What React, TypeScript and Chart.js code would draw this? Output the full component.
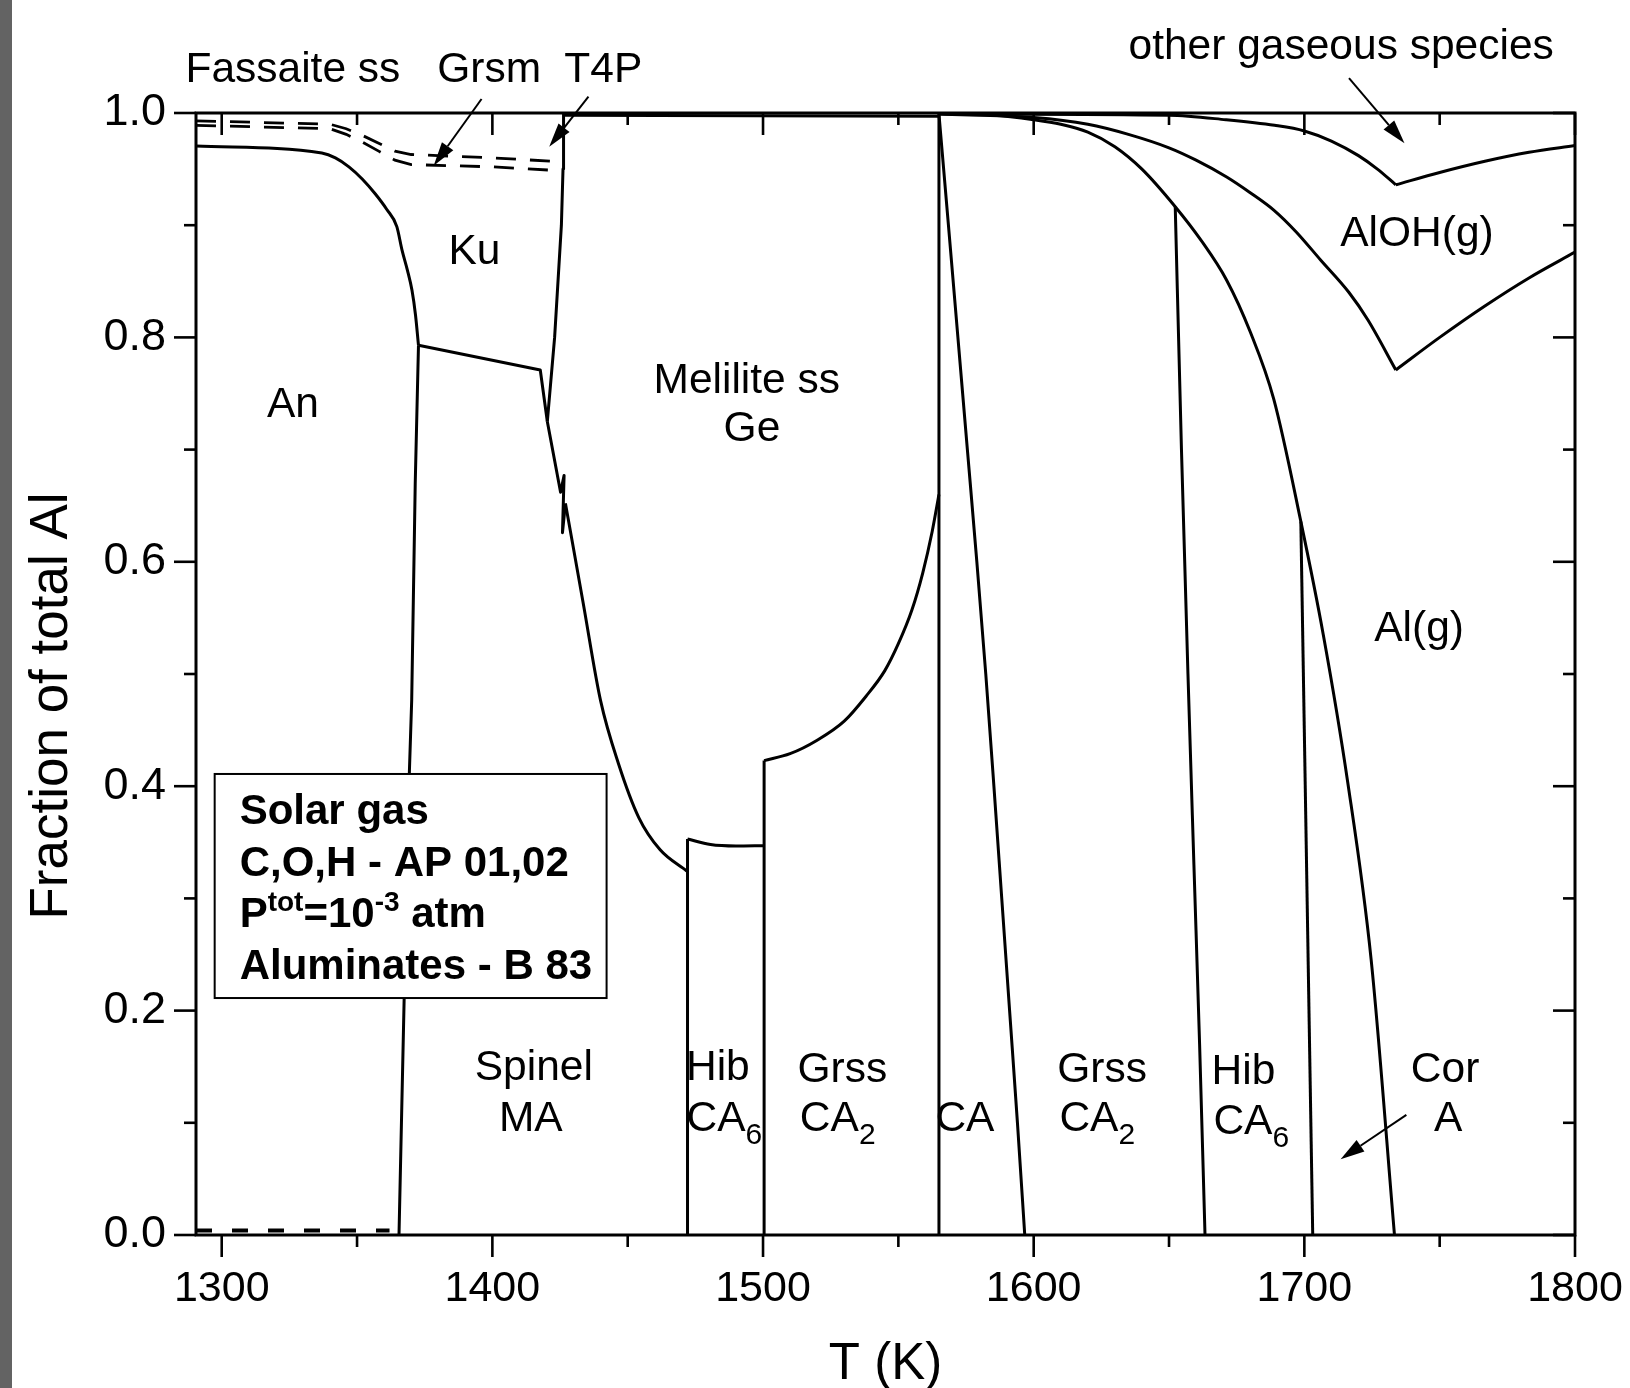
import { useEffect, useRef } from 'react';
import { Chart, registerables } from 'chart.js';

Chart.register(...registerables);

type Pt = [number, number];

// Axis ranges and ticks
const T_MIN = 1290.5;
const T_MAX = 1800;
const T_TICKS = [1300, 1400, 1500, 1600, 1700, 1800];
const T_MINOR = [1350, 1450, 1550, 1650, 1750];
const FRACTION_TICKS = [0, 0.2, 0.4, 0.6, 0.8, 1.0];
const FRACTION_MINOR = [0.1, 0.3, 0.5, 0.7, 0.9];
const X_TITLE = 'T (K)';
const Y_TITLE = 'Fraction of total Al';

// Phase boundaries: [T (K), cumulative fraction of total Al]
const AN_KU: Pt[] = [[1290.5, 0.9706], [1337, 0.9643], [1342, 0.96], [1347, 0.952], [1352, 0.941], [1356.7, 0.928], [1361, 0.914], [1364.7, 0.8987], [1366.6, 0.878], [1368.6, 0.86], [1370.3, 0.842], [1371.6, 0.82], [1372.7, 0.793]];
const AN_SPINEL: Pt[] = [[1365.5, 0], [1367.4, 0.21], [1369.3, 0.41], [1370.2, 0.477], [1370.9, 0.581], [1371.5, 0.67], [1372.7, 0.793]];
const SPINEL_KU: Pt[] = [[1372.7, 0.793], [1417.7, 0.771], [1420.3, 0.725]];
const KU_MELILITE: Pt[] = [[1420.3, 0.725], [1423, 0.8], [1425.5, 0.9], [1426.1, 0.95], [1426.3, 0.999]];
const SPINEL_MELILITE_KINK: Pt[] = [[1420.3, 0.725], [1425.2, 0.662], [1426.5, 0.677], [1425.9, 0.626], [1427.0, 0.652]];
const SPINEL_MELILITE: Pt[] = [[1427.0, 0.652], [1433.5, 0.564], [1440, 0.476], [1446.6, 0.42], [1454.1, 0.372], [1461.9, 0.3435], [1471.8, 0.3244]];
const MELILITE_TOP: Pt[] = [[1426.3, 0.998], [1565, 0.997]];
const HIB_LEFT: Pt[] = [[1472.1, 0], [1472.1, 0.353]];
const HIB_TOP: Pt[] = [[1472.1, 0.353], [1480.6, 0.348], [1490, 0.3467], [1500.4, 0.347]];
const HIB_RIGHT: Pt[] = [[1500.4, 0], [1500.4, 0.4228]];
const MELILITE_GRSS: Pt[] = [[1500.4, 0.4228], [1510, 0.429], [1520, 0.441], [1530, 0.458], [1538, 0.48], [1545, 0.503], [1550, 0.527], [1555, 0.557], [1559, 0.59], [1562.5, 0.627], [1565, 0.66]];
const CA_LEFT: Pt[] = [[1565, 0], [1565, 0.999]];
const CA_GRSS: Pt[] = [[1565, 0.999], [1568.5, 0.9], [1572, 0.8], [1575.5, 0.7], [1579, 0.6], [1582.3, 0.5], [1585.3, 0.4], [1588.2, 0.3], [1591.1, 0.2], [1594, 0.1], [1596.7, 0]];
const GRSS_HIB: Pt[] = [[1652.3, 0.9165], [1654.6, 0.7], [1657, 0.5], [1659.2, 0.33], [1661.3, 0.17], [1663.3, 0]];
const HIB_COR: Pt[] = [[1698.7, 0.636], [1703.1, 0]];
const COR_ALG: Pt[] = [[1565, 0.999], [1585, 0.998], [1600, 0.994], [1610, 0.99], [1620, 0.983], [1630, 0.97], [1640, 0.95], [1652.3, 0.9165], [1662, 0.886], [1671.3, 0.851], [1680, 0.805], [1688.7, 0.745], [1698.7, 0.636], [1707, 0.535], [1716, 0.404], [1724.7, 0.245], [1733.3, 0]];
const ALG_ALOH_LOW: Pt[] = [[1565, 0.999], [1600, 0.996], [1620, 0.99], [1635, 0.981], [1650, 0.969], [1660, 0.958], [1671.3, 0.943], [1680, 0.929], [1688.7, 0.9135], [1697, 0.894], [1706, 0.869], [1716.5, 0.84], [1723.5, 0.8155], [1733.8, 0.771]];
const ALG_ALOH_HIGH: Pt[] = [[1733.8, 0.771], [1750, 0.8], [1766.7, 0.828], [1783, 0.853], [1800, 0.876]];
const ALOH_GAS_LOW: Pt[] = [[1580, 0.999], [1650, 0.998], [1671, 0.994], [1689, 0.989], [1700, 0.984], [1710, 0.975], [1720, 0.962], [1727, 0.95], [1733.8, 0.936]];
const ALOH_GAS_HIGH: Pt[] = [[1733.8, 0.936], [1750, 0.947], [1766.7, 0.957], [1783, 0.965], [1800, 0.971]];

// Minor solid solutions (dashed)
const FASSAITE: Pt[] = [[1290.5, 0.993], [1340, 0.99], [1346, 0.986], [1352, 0.98], [1358, 0.973], [1364, 0.966], [1370, 0.963], [1400, 0.96], [1422, 0.957]];
const GRSM: Pt[] = [[1290.5, 0.989], [1340, 0.986], [1346, 0.981], [1352, 0.974], [1358, 0.966], [1364, 0.958], [1370, 0.954], [1400, 0.952], [1422, 0.949]];
const LOW_T_TRACE: Pt[] = [[1290.5, 0.004], [1362, 0.004]];

// Which boundaries are drawn as smooth curves
const SOLID_LINES: { pts: Pt[]; smooth: boolean }[] = [
  { pts: AN_KU, smooth: true },
  { pts: AN_SPINEL, smooth: false },
  { pts: SPINEL_KU, smooth: false },
  { pts: KU_MELILITE, smooth: false },
  { pts: SPINEL_MELILITE_KINK, smooth: false },
  { pts: SPINEL_MELILITE, smooth: true },
  { pts: MELILITE_TOP, smooth: false },
  { pts: HIB_LEFT, smooth: false },
  { pts: HIB_TOP, smooth: true },
  { pts: HIB_RIGHT, smooth: false },
  { pts: MELILITE_GRSS, smooth: true },
  { pts: CA_LEFT, smooth: false },
  { pts: CA_GRSS, smooth: true },
  { pts: GRSS_HIB, smooth: true },
  { pts: HIB_COR, smooth: false },
  { pts: COR_ALG, smooth: true },
  { pts: ALG_ALOH_LOW, smooth: true },
  { pts: ALG_ALOH_HIGH, smooth: true },
  { pts: ALOH_GAS_LOW, smooth: true },
  { pts: ALOH_GAS_HIGH, smooth: true },
];
const DASHED_LINES: Pt[][] = [FASSAITE, GRSM];

// Region labels, anchored in data coordinates
const REGION_LABELS: { text: string; sub?: string; t: number; v: number }[] = [
  { text: 'Fassaite ss', t: 1326.3, v: 1.0377 },
  { text: 'Grsm', t: 1398.8, v: 1.0377 },
  { text: 'T4P', t: 1441.0, v: 1.0377 },
  { text: 'other gaseous species', t: 1713.6, v: 1.059 },
  { text: 'Ku', t: 1393.4, v: 0.8756 },
  { text: 'An', t: 1326.3, v: 0.7394 },
  { text: 'Melilite ss', t: 1494, v: 0.7607 },
  { text: 'Ge', t: 1495.9, v: 0.7181 },
  { text: 'AlOH(g)', t: 1741.6, v: 0.8923 },
  { text: 'Al(g)', t: 1742.4, v: 0.5402 },
  { text: 'Spinel', t: 1415.3, v: 0.1483 },
  { text: 'MA', t: 1414.2, v: 0.1029 },
  { text: 'Hib', t: 1483.3, v: 0.149 },
  { text: 'CA', sub: '6', t: 1485.7, v: 0.1029 },
  { text: 'Grss', t: 1529.3, v: 0.1464 },
  { text: 'CA', sub: '2', t: 1527.6, v: 0.1029 },
  { text: 'CA', t: 1574.6, v: 0.1029 },
  { text: 'Grss', t: 1625.3, v: 0.1464 },
  { text: 'CA', sub: '2', t: 1623.5, v: 0.1029 },
  { text: 'Hib', t: 1677.5, v: 0.1446 },
  { text: 'CA', sub: '6', t: 1680.4, v: 0.1001 },
  { text: 'Cor', t: 1752, v: 0.1464 },
  { text: 'A', t: 1753.1, v: 0.1029 },
];

const POINTERS: { from: Pt; to: Pt }[] = [
  { from: [1396, 1.0125], to: [1378.3, 0.953] },
  { from: [1435.5, 1.0145], to: [1421, 0.97] },
  { from: [1716.5, 1.031], to: [1737, 0.973] },
  { from: [1737.7, 0.1071], to: [1713.4, 0.0676] },
];

// Conditions box
const INFO_BOX = { t0: 1297.4, t1: 1442.2, v0: 0.2112, v1: 0.4109 };
type Run = { s: string; sup?: boolean };
const INFO_LINES: Run[][] = [
  [{ s: 'Solar gas' }],
  [{ s: 'C,O,H - AP 01,02' }],
  [{ s: 'P' }, { s: 'tot', sup: true }, { s: '=10' }, { s: '-3', sup: true }, { s: ' atm' }],
  [{ s: 'Aluminates - B 83' }],
];

const FONT = '"Liberation Sans", Arial, Helvetica, sans-serif';
const LABEL_SIZE = 42.5;

function drawArrow(ctx: CanvasRenderingContext2D, x0: number, y0: number, x1: number, y1: number) {
  const ang = Math.atan2(y1 - y0, x1 - x0);
  const len = 24;
  const half = 7;
  const bx = x1 - len * Math.cos(ang);
  const by = y1 - len * Math.sin(ang);
  ctx.beginPath();
  ctx.moveTo(x0, y0);
  ctx.lineTo(bx, by);
  ctx.stroke();
  ctx.beginPath();
  ctx.moveTo(x1, y1);
  ctx.lineTo(bx + half * Math.sin(ang), by - half * Math.cos(ang));
  ctx.lineTo(bx - half * Math.sin(ang), by + half * Math.cos(ang));
  ctx.closePath();
  ctx.fill();
}

const decorPlugin = {
  id: 'phaseDecor',
  afterDatasetsDraw(chart: any) {
    const { ctx, scales } = chart;
    const x = scales.x;
    const y = scales.y;
    ctx.save();
    // conditions box
    const bx0 = x.getPixelForValue(INFO_BOX.t0);
    const bx1 = x.getPixelForValue(INFO_BOX.t1);
    const by0 = y.getPixelForValue(INFO_BOX.v1);
    const by1 = y.getPixelForValue(INFO_BOX.v0);
    ctx.fillStyle = '#fff';
    ctx.fillRect(bx0, by0, bx1 - bx0, by1 - by0);
    ctx.strokeStyle = '#000';
    ctx.lineWidth = 2;
    ctx.strokeRect(bx0, by0, bx1 - bx0, by1 - by0);
    ctx.fillStyle = '#000';
    ctx.textBaseline = 'alphabetic';
    ctx.textAlign = 'left';
    INFO_LINES.forEach((runs, i) => {
      let cx = bx0 + 25;
      const base = by0 + 50 + i * 51.7;
      runs.forEach((r) => {
        ctx.font = r.sup ? `bold 28px ${FONT}` : `bold 42px ${FONT}`;
        ctx.fillText(r.s, cx, r.sup ? base - 16 : base);
        cx += ctx.measureText(r.s).width;
      });
    });
    ctx.restore();
  },
  afterDraw(chart: any) {
    const { ctx, chartArea, scales } = chart;
    const x = scales.x;
    const y = scales.y;
    const { left, right, top, bottom } = chartArea;
    ctx.save();
    ctx.strokeStyle = '#000';
    ctx.fillStyle = '#000';
    // frame
    ctx.lineWidth = 3;
    ctx.strokeRect(left, top, right - left, bottom - top);
    const seg = (a: number, b: number, c: number, d: number) => {
      ctx.beginPath();
      ctx.moveTo(a, b);
      ctx.lineTo(c, d);
      ctx.stroke();
    };
    ctx.lineWidth = 2.6;
    T_TICKS.forEach((t) => {
      const px = x.getPixelForValue(t);
      seg(px, bottom, px, bottom + 22);
      seg(px, top, px, top + 22);
    });
    T_MINOR.forEach((t) => {
      const px = x.getPixelForValue(t);
      seg(px, bottom, px, bottom + 12);
      seg(px, top, px, top + 12);
    });
    FRACTION_TICKS.forEach((v) => {
      const py = y.getPixelForValue(v);
      seg(left - 22, py, left, py);
      seg(right - 22, py, right, py);
    });
    FRACTION_MINOR.forEach((v) => {
      const py = y.getPixelForValue(v);
      seg(left - 12, py, left, py);
      seg(right - 12, py, right, py);
    });
    // y-axis title, set slightly below the axis midpoint
    ctx.save();
    ctx.translate(52, y.getPixelForValue(0.4715));
    ctx.rotate(-Math.PI / 2);
    ctx.font = `53px ${FONT}`;
    ctx.textAlign = 'center';
    ctx.textBaseline = 'middle';
    ctx.fillText(Y_TITLE, 0, 0);
    ctx.restore();
    // region labels
    ctx.textBaseline = 'middle';
    ctx.textAlign = 'left';
    REGION_LABELS.forEach((l) => {
      const cx = x.getPixelForValue(l.t);
      const cy = y.getPixelForValue(l.v);
      ctx.font = `${LABEL_SIZE}px ${FONT}`;
      const w1 = ctx.measureText(l.text).width;
      let w2 = 0;
      if (l.sub) {
        ctx.font = `30px ${FONT}`;
        w2 = ctx.measureText(l.sub).width;
      }
      const sx = cx - (w1 + w2) / 2;
      ctx.font = `${LABEL_SIZE}px ${FONT}`;
      ctx.fillText(l.text, sx, cy);
      if (l.sub) {
        ctx.font = `30px ${FONT}`;
        ctx.fillText(l.sub, sx + w1, cy + 16);
      }
    });
    // pointers
    ctx.lineWidth = 2;
    POINTERS.forEach((p) => {
      drawArrow(ctx, x.getPixelForValue(p.from[0]), y.getPixelForValue(p.from[1]), x.getPixelForValue(p.to[0]), y.getPixelForValue(p.to[1]));
    });
    ctx.restore();
  },
};

const toXY = (pts: Pt[]) => pts.map(([t, v]) => ({ x: t, y: v }));

export default function App() {
  const ref = useRef<HTMLCanvasElement>(null);

  useEffect(() => {
    if (!ref.current) return;
    const datasets: any[] = [];
    SOLID_LINES.forEach((l) => {
      datasets.push({
        data: toXY(l.pts),
        showLine: true,
        borderColor: '#000',
        borderWidth: 3,
        pointRadius: 0,
        fill: false,
        borderJoinStyle: 'round',
        tension: l.smooth ? 0.4 : 0,
        cubicInterpolationMode: l.smooth ? 'monotone' : 'default',
      });
    });
    DASHED_LINES.forEach((pts) => {
      datasets.push({
        data: toXY(pts),
        showLine: true,
        borderColor: '#000',
        borderWidth: 2.8,
        borderDash: [20, 14],
        pointRadius: 0,
        fill: false,
        tension: 0,
      });
    });
    datasets.push({
      data: toXY(LOW_T_TRACE),
      showLine: true,
      borderColor: '#000',
      borderWidth: 4,
      borderDash: [16, 20],
      pointRadius: 0,
      fill: false,
      tension: 0,
    });

    const chart = new Chart(ref.current, {
      type: 'scatter',
      data: { datasets },
      options: {
        animation: false,
        responsive: false,
        devicePixelRatio: 1,
        events: [],
        layout: { padding: { left: 0, right: 55, top: 113, bottom: 0 } },
        plugins: { legend: { display: false }, tooltip: { enabled: false } },
        scales: {
          x: {
            type: 'linear',
            min: T_MIN,
            max: T_MAX,
            grid: { display: false, drawTicks: false },
            border: { display: false },
            ticks: { font: { family: FONT, size: 43, lineHeight: 1 }, color: '#000', padding: 33, maxRotation: 0, autoSkip: false, callback: (v: any) => String(v) },
            afterBuildTicks: (s: any) => { s.ticks = T_TICKS.map((value) => ({ value })); },
            afterFit: (s: any) => {
              s.height = 153;
              s.paddingLeft = 0;
              s.paddingRight = 0;
            },
            title: { display: true, text: X_TITLE, font: { family: FONT, size: 51, lineHeight: 0.9 }, color: '#000', padding: { top: 0, bottom: 0 } },
          },
          y: {
            type: 'linear',
            min: 0,
            max: 1,
            grid: { display: false, drawTicks: false },
            border: { display: false },
            ticks: { font: { family: FONT, size: 45, lineHeight: 1 }, color: '#000', padding: 30, autoSkip: false, callback: (v: any) => Number(v).toFixed(1) },
            afterBuildTicks: (s: any) => { s.ticks = FRACTION_TICKS.map((value) => ({ value })); },
            afterFit: (s: any) => { s.width = 196; },
            title: { display: false },
          },
        },
      } as any,
      plugins: [decorPlugin],
    });
    return () => chart.destroy();
  }, []);

  return (
    <div style={{ position: 'fixed', left: 0, top: 0, width: 1630, height: 1388, background: '#fff', overflow: 'hidden' }}>
      <div style={{ position: 'absolute', left: 0, top: 0, width: 12, height: 1388, background: '#636363' }} />
      <canvas ref={ref} width={1630} height={1388} style={{ position: 'absolute', left: 0, top: 0 }} />
    </div>
  );
}
